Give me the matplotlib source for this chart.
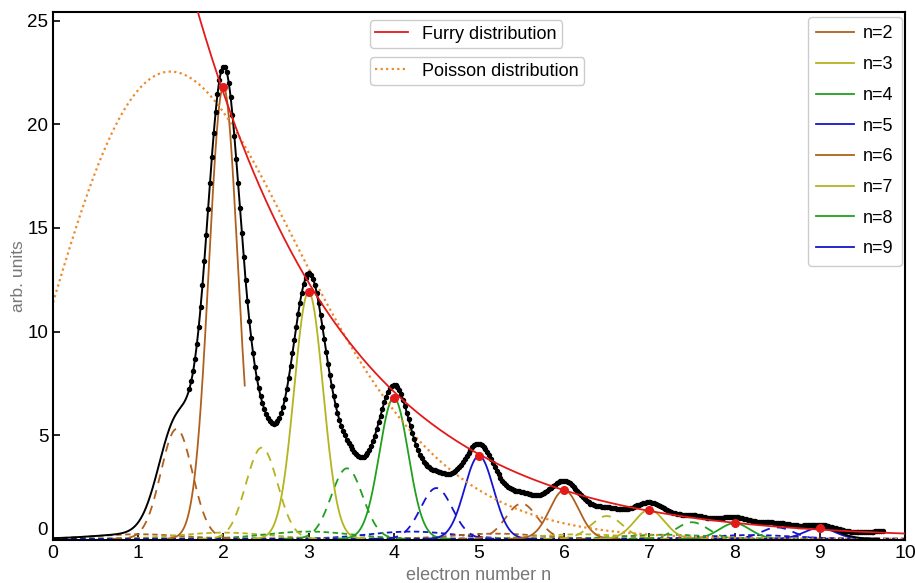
import math
import numpy as np
import matplotlib
matplotlib.use('Agg')
import matplotlib.pyplot as plt

plt.rcParams['font.family'] = ['Liberation Sans', 'DejaVu Sans']

# fitted components, one per electron number n
n_values = [2, 3, 4, 5, 6, 7, 8, 9]
n_labels = ['n=%d' % n for n in n_values]
peak_heights = [21.8, 11.9, 6.8, 4.0, 2.35, 1.4, 0.75, 0.53]
peak_widths = [0.17, 0.17, 0.17, 0.17, 0.17, 0.175, 0.18, 0.18]
sat_centers = [1.45, 2.45, 3.45, 4.5, 5.5, 6.5, 7.5, 8.5]
sat_heights = [5.3, 4.4, 3.4, 2.45, 1.7, 1.1, 0.8, 0.55]
sat_width = 0.185
broad_centers = [1.0, 2.0, 3.0, 4.2, 5.2, 6.2, 7.2, 8.2]
broad_heights = [0.22, 0.3, 0.35, 0.35, 0.25, 0.22, 0.2, 0.18]
broad_width = 0.5
resolution = 0.1  # extra broadening seen in the summed fit

# measured signal beyond the last fitted peak
tail_center, tail_height, tail_width = 9.75, 0.36, 0.4

# distributions
furry_norm, furry_mean = 88.0, 2.35
poisson_amp, poisson_mean = 76.2, 1.9

colors = ['#b0601c', '#b4b41e', '#1fa01f', '#1414d2'] * 2
red = '#e31a1a'
orange = '#ee8a2c'


def gauss(x, c, a, s):
    return a * np.exp(-(x - c) ** 2 / (2 * s * s))


lgam = np.vectorize(math.lgamma)

x = np.linspace(0, 10, 2001)


def fit_total(xx):
    tot = np.zeros_like(xx)
    for i in range(len(n_values)):
        tot += gauss(xx, n_values[i], peak_heights[i], np.hypot(peak_widths[i], resolution))
        tot += gauss(xx, sat_centers[i], sat_heights[i], np.hypot(sat_width, resolution))
        tot += gauss(xx, broad_centers[i], broad_heights[i], broad_width)
    return tot


fig = plt.figure(figsize=(9.15, 5.83), dpi=100)
ax = fig.add_axes([0.058, 0.074, 0.931, 0.905])

# broad background pieces
for i in range(len(n_values)):
    ax.plot(x, gauss(x, broad_centers[i], broad_heights[i], broad_width),
            color=colors[i], lw=1.3, ls=(0, (3, 2)))

# satellites
for i in range(len(n_values)):
    xs = x[np.abs(x - sat_centers[i]) < 0.75]
    ax.plot(xs, gauss(xs, sat_centers[i], sat_heights[i], sat_width),
            color=colors[i], lw=1.3, ls=(0, (5, 4)))

# main peaks
handles = []
for i in range(len(n_values)):
    hi = 2.25 if i == 0 else n_values[i] + 0.65
    xx = x[(x >= n_values[i] - 0.65) & (x <= hi)]
    h, = ax.plot(xx, gauss(xx, n_values[i], peak_heights[i], peak_widths[i]),
                 color=colors[i], lw=1.3)
    handles.append(h)

# poisson
pois = poisson_amp * np.exp(x * np.log(poisson_mean) - poisson_mean - lgam(x + 1))
h_pois, = ax.plot(x, pois, color=orange, lw=1.6, ls=(0, (1, 1.5)))

# data points and fit sum
xd = np.arange(1.6, 9.76, 0.022)
yd = fit_total(xd) + gauss(xd, tail_center, tail_height, tail_width)
ax.plot(xd, yd, 'o', color='black', ms=2.9, zorder=5)
xt = x[x <= 9.7]
ax.plot(xt, fit_total(xt), color='black', lw=1.4, zorder=6)

# furry
xf = x[x >= 1.6]
furry = furry_norm / furry_mean * (1 - 1 / furry_mean) ** (xf - 1)
h_furry, = ax.plot(xf, furry, color=red, lw=1.3, zorder=7)
ax.plot(n_values, peak_heights, 'o', color=red, ms=5.5, zorder=8)

ax.set_xlim(0, 10)
ax.set_ylim(-0.05, 25.4)
ax.set_xticks(range(0, 11))
ax.set_yticks([0, 5, 10, 15, 20, 25])
ax.tick_params(direction='in', length=5, width=1.2, top=False, right=False)
for lab in ax.get_xticklabels():
    lab.set_fontsize(14)
for lab in ax.get_yticklabels():
    lab.set_fontsize(13.5)
ax.get_yticklabels()[0].set_verticalalignment('bottom')
for sp in ax.spines.values():
    sp.set_linewidth(1.5)

ax.set_xlabel('electron number n', fontsize=13, color='#777777', labelpad=4)
ax.set_ylabel('arb. units', fontsize=12.5, color='#777777', labelpad=1)

leg1 = ax.legend([h_furry], ['Furry distribution'], loc='upper left',
                 bbox_to_anchor=(0.372, 0.985), fontsize=13, handlelength=1.8,
                 edgecolor='#cccccc', framealpha=1, borderpad=0.3,
                 borderaxespad=0, handletextpad=0.8)
ax.add_artist(leg1)
leg2 = ax.legend([h_pois], ['Poisson distribution'], loc='upper left',
                 bbox_to_anchor=(0.372, 0.915), fontsize=13, handlelength=1.8,
                 edgecolor='#cccccc', framealpha=1, borderpad=0.3,
                 borderaxespad=0, handletextpad=0.8)
ax.add_artist(leg2)
ax.legend(handles, n_labels, loc='upper right', bbox_to_anchor=(0.9965, 0.9905),
          fontsize=13, handlelength=2.1, labelspacing=0.76, handletextpad=0.5,
          edgecolor='#cccccc', framealpha=1, borderaxespad=0, borderpad=0.45)

fig.savefig('out.png', dpi=100)
